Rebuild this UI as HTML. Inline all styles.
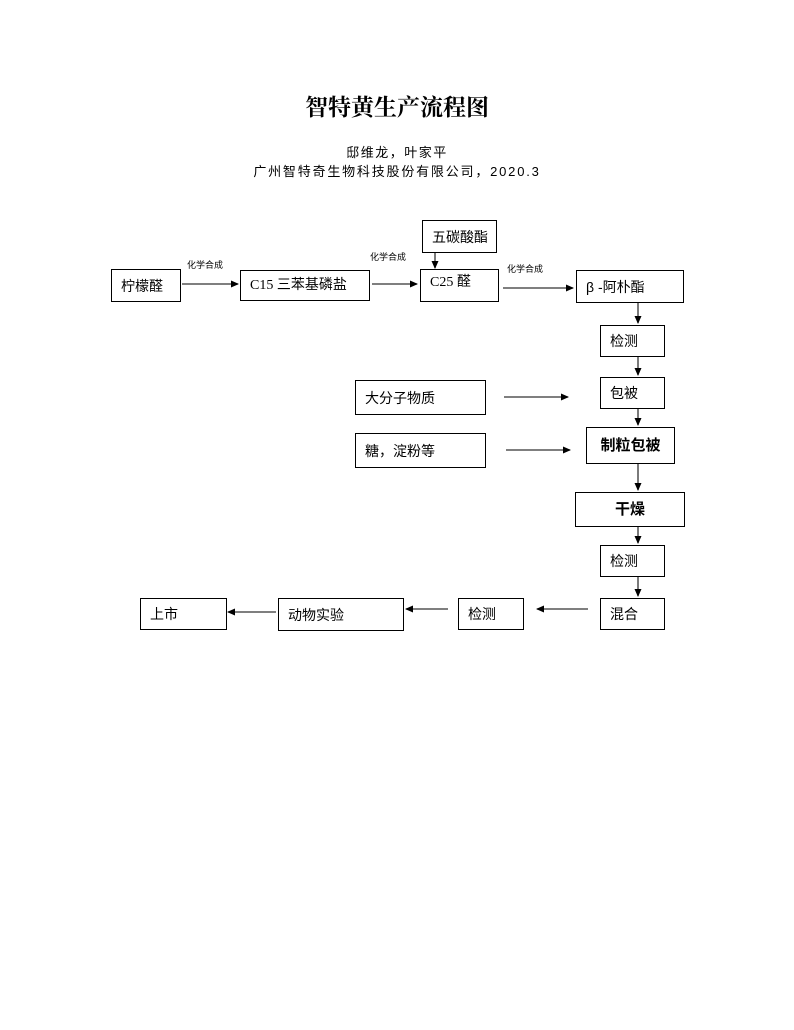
<!DOCTYPE html>
<html><head><meta charset="utf-8">
<style>
html,body{margin:0;padding:0;background:#fff;}
body{width:794px;height:1030px;position:relative;overflow:hidden;font-family:"Liberation Sans","Noto Sans CJK SC",sans-serif;color:#000;}
.b{position:absolute;border:1.3px solid #000;box-sizing:border-box;font-size:14px;line-height:1;display:flex;align-items:center;padding-left:9px;background:#fff;}
.c{justify-content:center;padding-left:0;font-weight:bold;font-size:15px;}
.t{position:absolute;white-space:nowrap;}
.lbl{position:absolute;font-size:9px;white-space:nowrap;}
</style></head><body>
<div class="t" style="left:0;width:794px;top:89px;text-align:center;font-size:23px;font-weight:bold;font-family:'Noto Serif CJK SC','Noto Sans CJK SC',serif;">智特黄生产流程图</div>
<div class="t" style="left:0;width:794px;top:142px;text-align:center;font-size:13px;letter-spacing:1.5px;">邸维龙，叶家平</div>
<div class="t" style="left:0;width:794px;top:161px;text-align:center;font-size:13px;letter-spacing:1.8px;">广州智特奇生物科技股份有限公司，2020.3</div>

<svg width="794" height="1030" style="position:absolute;left:0;top:0" xmlns="http://www.w3.org/2000/svg">
<defs><marker id="a" markerWidth="8" markerHeight="8" refX="7" refY="4" orient="auto" markerUnits="userSpaceOnUse"><path d="M0,0.5 L8,4 L0,7.5 z" fill="#000"/></marker></defs>
<g stroke="#333" stroke-width="1.3" fill="none" marker-end="url(#a)">
<line x1="182" y1="284" x2="238" y2="284"/>
<line x1="372" y1="284" x2="417" y2="284"/>
<line x1="503" y1="288" x2="573" y2="288"/>
<line x1="435" y1="253" x2="435" y2="268"/>
<line x1="638" y1="303" x2="638" y2="323"/>
<line x1="638" y1="357" x2="638" y2="375"/>
<line x1="638" y1="409" x2="638" y2="425"/>
<line x1="638" y1="464" x2="638" y2="490"/>
<line x1="638" y1="527" x2="638" y2="543"/>
<line x1="638" y1="577" x2="638" y2="596"/>
<line x1="504" y1="397" x2="568" y2="397"/>
<line x1="506" y1="450" x2="570" y2="450"/>
<line x1="588" y1="609" x2="537" y2="609"/>
<line x1="448" y1="609" x2="406" y2="609"/>
<line x1="276" y1="612" x2="228" y2="612"/>
</g></svg>

<div class="lbl" style="left:187px;top:258px;">化学合成</div>
<div class="lbl" style="left:370px;top:250px;">化学合成</div>
<div class="lbl" style="left:507px;top:262px;">化学合成</div>

<div class="b" style="left:111px;top:269px;width:70px;height:33px;">柠檬醛</div>
<div class="b" style="left:240px;top:270px;width:130px;height:31px;font-family:'Liberation Serif','Noto Sans CJK SC',serif;">C15 三苯基磷盐</div>
<div class="b" style="left:422px;top:220px;width:75px;height:33px;">五碳酸酯</div>
<div class="b" style="left:420px;top:269px;width:79px;height:33px;align-items:flex-start;padding-top:6px;font-family:'Liberation Serif','Noto Sans CJK SC',serif;">C25 醛</div>
<div class="b" style="left:576px;top:270px;width:108px;height:33px;">β -阿朴酯</div>
<div class="b" style="left:600px;top:325px;width:65px;height:32px;">检测</div>
<div class="b" style="left:600px;top:377px;width:65px;height:32px;">包被</div>
<div class="b c" style="left:586px;top:427px;width:89px;height:37px;">制粒包被</div>
<div class="b c" style="left:575px;top:492px;width:110px;height:35px;">干燥</div>
<div class="b" style="left:600px;top:545px;width:65px;height:32px;">检测</div>
<div class="b" style="left:600px;top:598px;width:65px;height:32px;">混合</div>
<div class="b" style="left:458px;top:598px;width:66px;height:32px;">检测</div>
<div class="b" style="left:278px;top:598px;width:126px;height:33px;">动物实验</div>
<div class="b" style="left:140px;top:598px;width:87px;height:32px;">上市</div>
<div class="b" style="left:355px;top:380px;width:131px;height:35px;">大分子物质</div>
<div class="b" style="left:355px;top:433px;width:131px;height:35px;">糖，淀粉等</div>
</body></html>
